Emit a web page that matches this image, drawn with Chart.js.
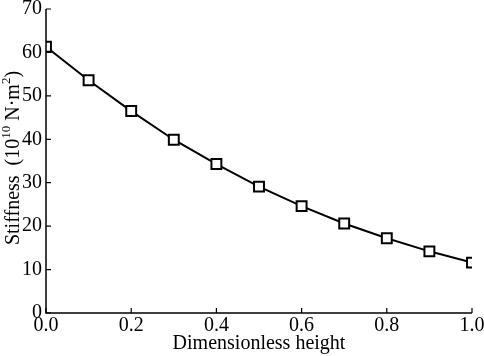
<!DOCTYPE html>
<html><head><meta charset="utf-8">
<script src="https://cdn.jsdelivr.net/npm/chart.js@4.4.1/dist/chart.umd.min.js"></script>
<style>html,body{margin:0;padding:0;background:#fff}#wrap{width:484px;height:356px}</style>
</head><body><div id="wrap"><canvas id="c" width="484" height="356"></canvas></div>
<script>
const heights = [0.0, 0.1, 0.2, 0.3, 0.4, 0.5, 0.6, 0.7, 0.8, 0.9, 1.0];
const stiffness = [61.3, 53.6, 46.5, 39.9, 34.3, 29.1, 24.6, 20.6, 17.2, 14.2, 11.6];
const xTickValues = [0, 0.2, 0.4, 0.6, 0.8, 1.0];
const yTickValues = [0, 10, 20, 30, 40, 50, 60, 70];
const xTitle = 'Dimensionless height';
// y title pieces: [text, superscript?]
const yTitleParts = [['Stiffness  (10', false], ['10', true], [' N·m', false], ['2', true], [')', false]];

const FONT = "'Liberation Serif', 'Times New Roman', serif";

const inwardTicks = {
  id: 'inwardTicks',
  afterDraw(chart) {
    const ctx = chart.ctx, a = chart.chartArea;
    const xs = chart.scales.x, ys = chart.scales.y;
    ctx.save();
    ctx.strokeStyle = '#000';
    ctx.lineWidth = 1.5;
    ctx.beginPath();
    ctx.moveTo(a.left, a.top); ctx.lineTo(a.left, a.bottom); ctx.lineTo(a.right, a.bottom);
    ctx.stroke();
    ctx.lineWidth = 1.2;
    ctx.beginPath();
    xs.ticks.forEach(t => { const p = xs.getPixelForValue(t.value); ctx.moveTo(p, a.bottom); ctx.lineTo(p, a.bottom - 5); });
    ys.ticks.forEach(t => { const p = ys.getPixelForValue(t.value); ctx.moveTo(a.left, p); ctx.lineTo(a.left + 5, p); });
    ctx.stroke();
    ctx.restore();
  }
};

const yTitlePlugin = {
  id: 'yTitle',
  afterDraw(chart) {
    const ctx = chart.ctx, ys = chart.scales.y;
    const big = '20px ' + FONT, small = '13px ' + FONT;
    ctx.save();
    let total = 0;
    yTitleParts.forEach(([t, sup]) => { ctx.font = sup ? small : big; total += ctx.measureText(t).width; });
    const cy = 158;
    ctx.translate(14, cy);
    ctx.rotate(-Math.PI / 2);
    ctx.fillStyle = '#000';
    ctx.textBaseline = 'middle';
    ctx.textAlign = 'left';
    let x = -total / 2;
    yTitleParts.forEach(([t, sup]) => {
      ctx.font = sup ? small : big;
      ctx.fillText(t, x, sup ? -7 : 0);
      x += ctx.measureText(t).width;
    });
    ctx.restore();
  }
};

new Chart(document.getElementById('c'), {
  type: 'line',
  data: {
    datasets: [{
      data: heights.map((h, i) => ({x: h, y: stiffness[i]})),
      borderColor: '#000',
      borderWidth: 2,
      backgroundColor: '#fff',
      pointStyle: 'rect',
      pointRadius: 7,
      pointBorderWidth: 2,
      pointBorderColor: '#000',
      pointBackgroundColor: '#fff',
      tension: 0,
      clip: 0
    }]
  },
  options: {
    responsive: false,
    animation: false,
    layout: { padding: { top: 8, right: 12, left: 0, bottom: 0 } },
    plugins: { legend: { display: false }, tooltip: { enabled: false } },
    scales: {
      x: {
        type: 'linear', min: 0, max: 1,
        afterBuildTicks(s) { s.ticks = xTickValues.map(v => ({value: v})); },
        afterFit(s) { s.height = 43; s.paddingLeft = 0; s.paddingRight = 0; },
        border: { display: false },
        grid: { display: false, drawTicks: false },
        ticks: { color: '#000', font: { family: FONT, size: 20 }, padding: 1, maxRotation: 0,
          callback: v => Number(v).toFixed(1) },
        title: { display: true, text: xTitle, color: '#000', font: { family: FONT, size: 20 }, padding: { top: -6, bottom: 0 } }
      },
      y: {
        type: 'linear', min: 0, max: 70,
        afterBuildTicks(s) { s.ticks = yTickValues.map(v => ({value: v})); },
        afterFit(s) { s.width = 46; s.paddingTop = 0; s.paddingBottom = 0; },
        border: { display: false },
        grid: { display: false, drawTicks: false },
        ticks: { color: '#000', font: { family: FONT, size: 20 }, padding: 4 },
        title: { display: false }
      }
    }
  },
  plugins: [inwardTicks, yTitlePlugin]
});
</script></body></html>
